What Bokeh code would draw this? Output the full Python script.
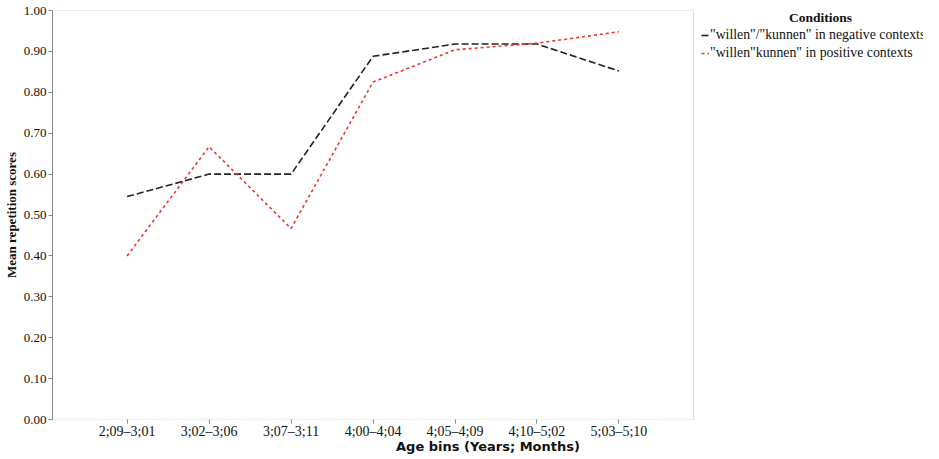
from bokeh.plotting import figure
from bokeh.models import Legend, LegendItem, Label, FixedTicker, NumeralTickFormatter, Range1d, BoxAnnotation
from bokeh.embed import file_html
from bokeh.resources import INLINE

age_bins = ["2;09\u20133;01", "3;02\u20133;06", "3;07\u20133;11", "4;00\u20134;04",
            "4;05\u20134;09", "4;10\u20135;02", "5;03\u20135;10"]
negative_scores = [0.545, 0.60, 0.60, 0.888, 0.918, 0.918, 0.852]
positive_scores = [0.40, 0.667, 0.467, 0.825, 0.904, 0.92, 0.948]
y_ticks = [0.0, 0.1, 0.2, 0.3, 0.4, 0.5, 0.6, 0.7, 0.8, 0.9, 1.0]
neg_label = '"willen"/"kunnen" in negative contexts'
pos_label = '"willen"kunnen" in positive contexts'

xs = list(range(len(age_bins)))

W, H = 923, 456
LEFT, RIGHT, TOP = 48, 0, 10
frame_w = W - LEFT - RIGHT
x_lo, x_hi = -0.91, 6.91
unit = 644 / (x_hi - x_lo)

p = figure(width=W, height=H, output_backend="svg", toolbar_location=None,
           x_range=Range1d(x_lo, x_lo + frame_w / unit), y_range=Range1d(0, 1),
           min_border_left=LEFT, min_border_right=RIGHT, min_border_top=TOP, min_border_bottom=30)
p.background_fill_color = "white"
p.border_fill_color = "white"
p.outline_line_color = None
p.xgrid.visible = False
p.ygrid.visible = False

# plot-area box
p.add_layout(BoxAnnotation(left=x_lo, right=x_hi, bottom=0, top=1, fill_alpha=0,
                           line_color="#888888", line_width=1))

serif = "Liberation Serif"
for ax in (p.xaxis[0], p.yaxis[0]):
    ax.axis_line_color = "#888888"
    ax.major_tick_line_color = "#888888"
    ax.minor_tick_line_color = None
    ax.major_tick_in = 0
    ax.major_tick_out = 4
    ax.major_label_text_font = serif
    ax.major_label_text_font_size = "13px"
    ax.major_label_text_color = "#111111"
    ax.axis_label_text_color = "#111111"
    ax.axis_label_text_font_style = "bold"

p.xaxis.axis_line_color = None
p.xaxis.ticker = FixedTicker(ticks=xs)
p.xaxis.major_label_overrides = {i: lab for i, lab in enumerate(age_bins)}
p.xaxis.major_label_text_font_size = "14px"
p.xaxis.axis_label = "Age bins (Years; Months)"
p.xaxis.axis_label_text_font = "DejaVu Sans"
p.xaxis.axis_label_text_font_size = "13px"
p.xaxis.axis_label_standoff = -3
p.xaxis.major_label_standoff = 0

p.yaxis.ticker = FixedTicker(ticks=y_ticks)
p.yaxis.formatter = NumeralTickFormatter(format="0.00")
p.yaxis.axis_label = "Mean repetition scores"
p.yaxis.axis_label_text_font = serif
p.yaxis.axis_label_text_font_size = "13px"
p.yaxis.axis_label_standoff = 2
p.yaxis.major_label_standoff = 2

r_neg = p.line(xs, negative_scores, line_color="#222222", line_width=1.6, line_dash="7 3")
r_pos = p.line(xs, positive_scores, line_color="#ee3333", line_width=1.6, line_dash="3 3")

legend = Legend(items=[LegendItem(label=neg_label, renderers=[r_neg]),
                       LegendItem(label=pos_label, renderers=[r_pos])],
                location=(649, 358), border_line_color=None, background_fill_alpha=0,
                glyph_width=8, glyph_height=16, label_standoff=1, spacing=2, padding=0,
                margin=0, label_text_font=serif, label_text_font_size="13.8px",
                label_text_color="#111111", label_height=16)
p.add_layout(legend, "center")

title = Label(x=768, y=1.0, x_units="screen", y_units="data", y_offset=-7, text="Conditions",
              text_font=serif, text_font_size="13.5px", text_font_style="bold",
              text_align="center", text_baseline="middle", text_color="#111111")
p.add_layout(title)

open("out.html", "w").write(file_html(p, INLINE))
